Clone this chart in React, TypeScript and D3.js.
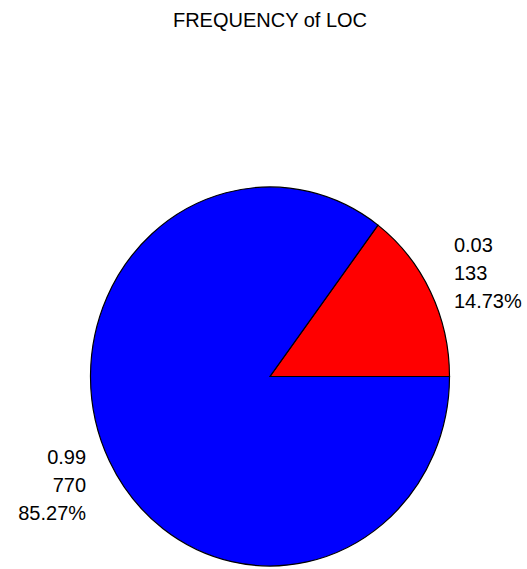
import React from "react";
import * as d3 from "d3";

const categories = ["0.03", "0.99"];
const counts = [133, 770];
const percents = ["14.73%", "85.27%"];
const colors = ["#ff0000", "#0000ff"];
const title = "FREQUENCY of LOC";

const W = 527;
const H = 569;
const cx = 270;
const cy = 376.5;
const rx = 179.5;
const ry = 189.5;
const FONT = "Liberation Sans, Arial, sans-serif";
const FS = 20;
const LINE = 28;

export default function App() {
  const data = categories.map((c, i) => ({ cat: c, count: counts[i], pct: percents[i], color: colors[i] }));
  const pie = d3
    .pie<any>()
    .sort(null)
    .value((d: any) => d.count)
    .startAngle(Math.PI / 2)
    .endAngle(Math.PI / 2 - 2 * Math.PI);
  const arcs = pie(data);
  const arc = d3.arc<any>().innerRadius(0).outerRadius(ry);

  return (
    <svg width={W} height={H} style={{ position: "absolute", left: 0, top: 0, background: "#fff" }}>
      <text x={cx} y={27} textAnchor="middle" fontFamily={FONT} fontSize={FS} fill="#000">
        {title}
      </text>
      <g transform={`translate(${cx},${cy}) scale(${rx / ry},1)`}>
        {arcs.map((a, i) => (
          <path
            key={i}
            d={arc(a) as string}
            fill={a.data.color}
            stroke="#000"
            strokeWidth={1.2}
            vectorEffect="non-scaling-stroke"
          />
        ))}
      </g>
      {arcs.map((a, i) => {
        const mid = (a.startAngle + a.endAngle) / 2;
        const k = 1.145;
        const px = cx + Math.sin(mid) * rx * k;
        const py = cy - Math.cos(mid) * ry * k;
        const right = Math.sin(mid) > 0;
        const lower = Math.cos(mid) < 0;
        const midBase = py + (lower ? 19 : 0);
        const lines = [a.data.cat, String(a.data.count), a.data.pct];
        return (
          <text key={i} textAnchor={right ? "start" : "end"} fontFamily={FONT} fontSize={FS} fill="#000">
            {lines.map((l, j) => (
              <tspan key={j} x={px} y={midBase + (j - 1) * LINE}>
                {l}
              </tspan>
            ))}
          </text>
        );
      })}
    </svg>
  );
}
